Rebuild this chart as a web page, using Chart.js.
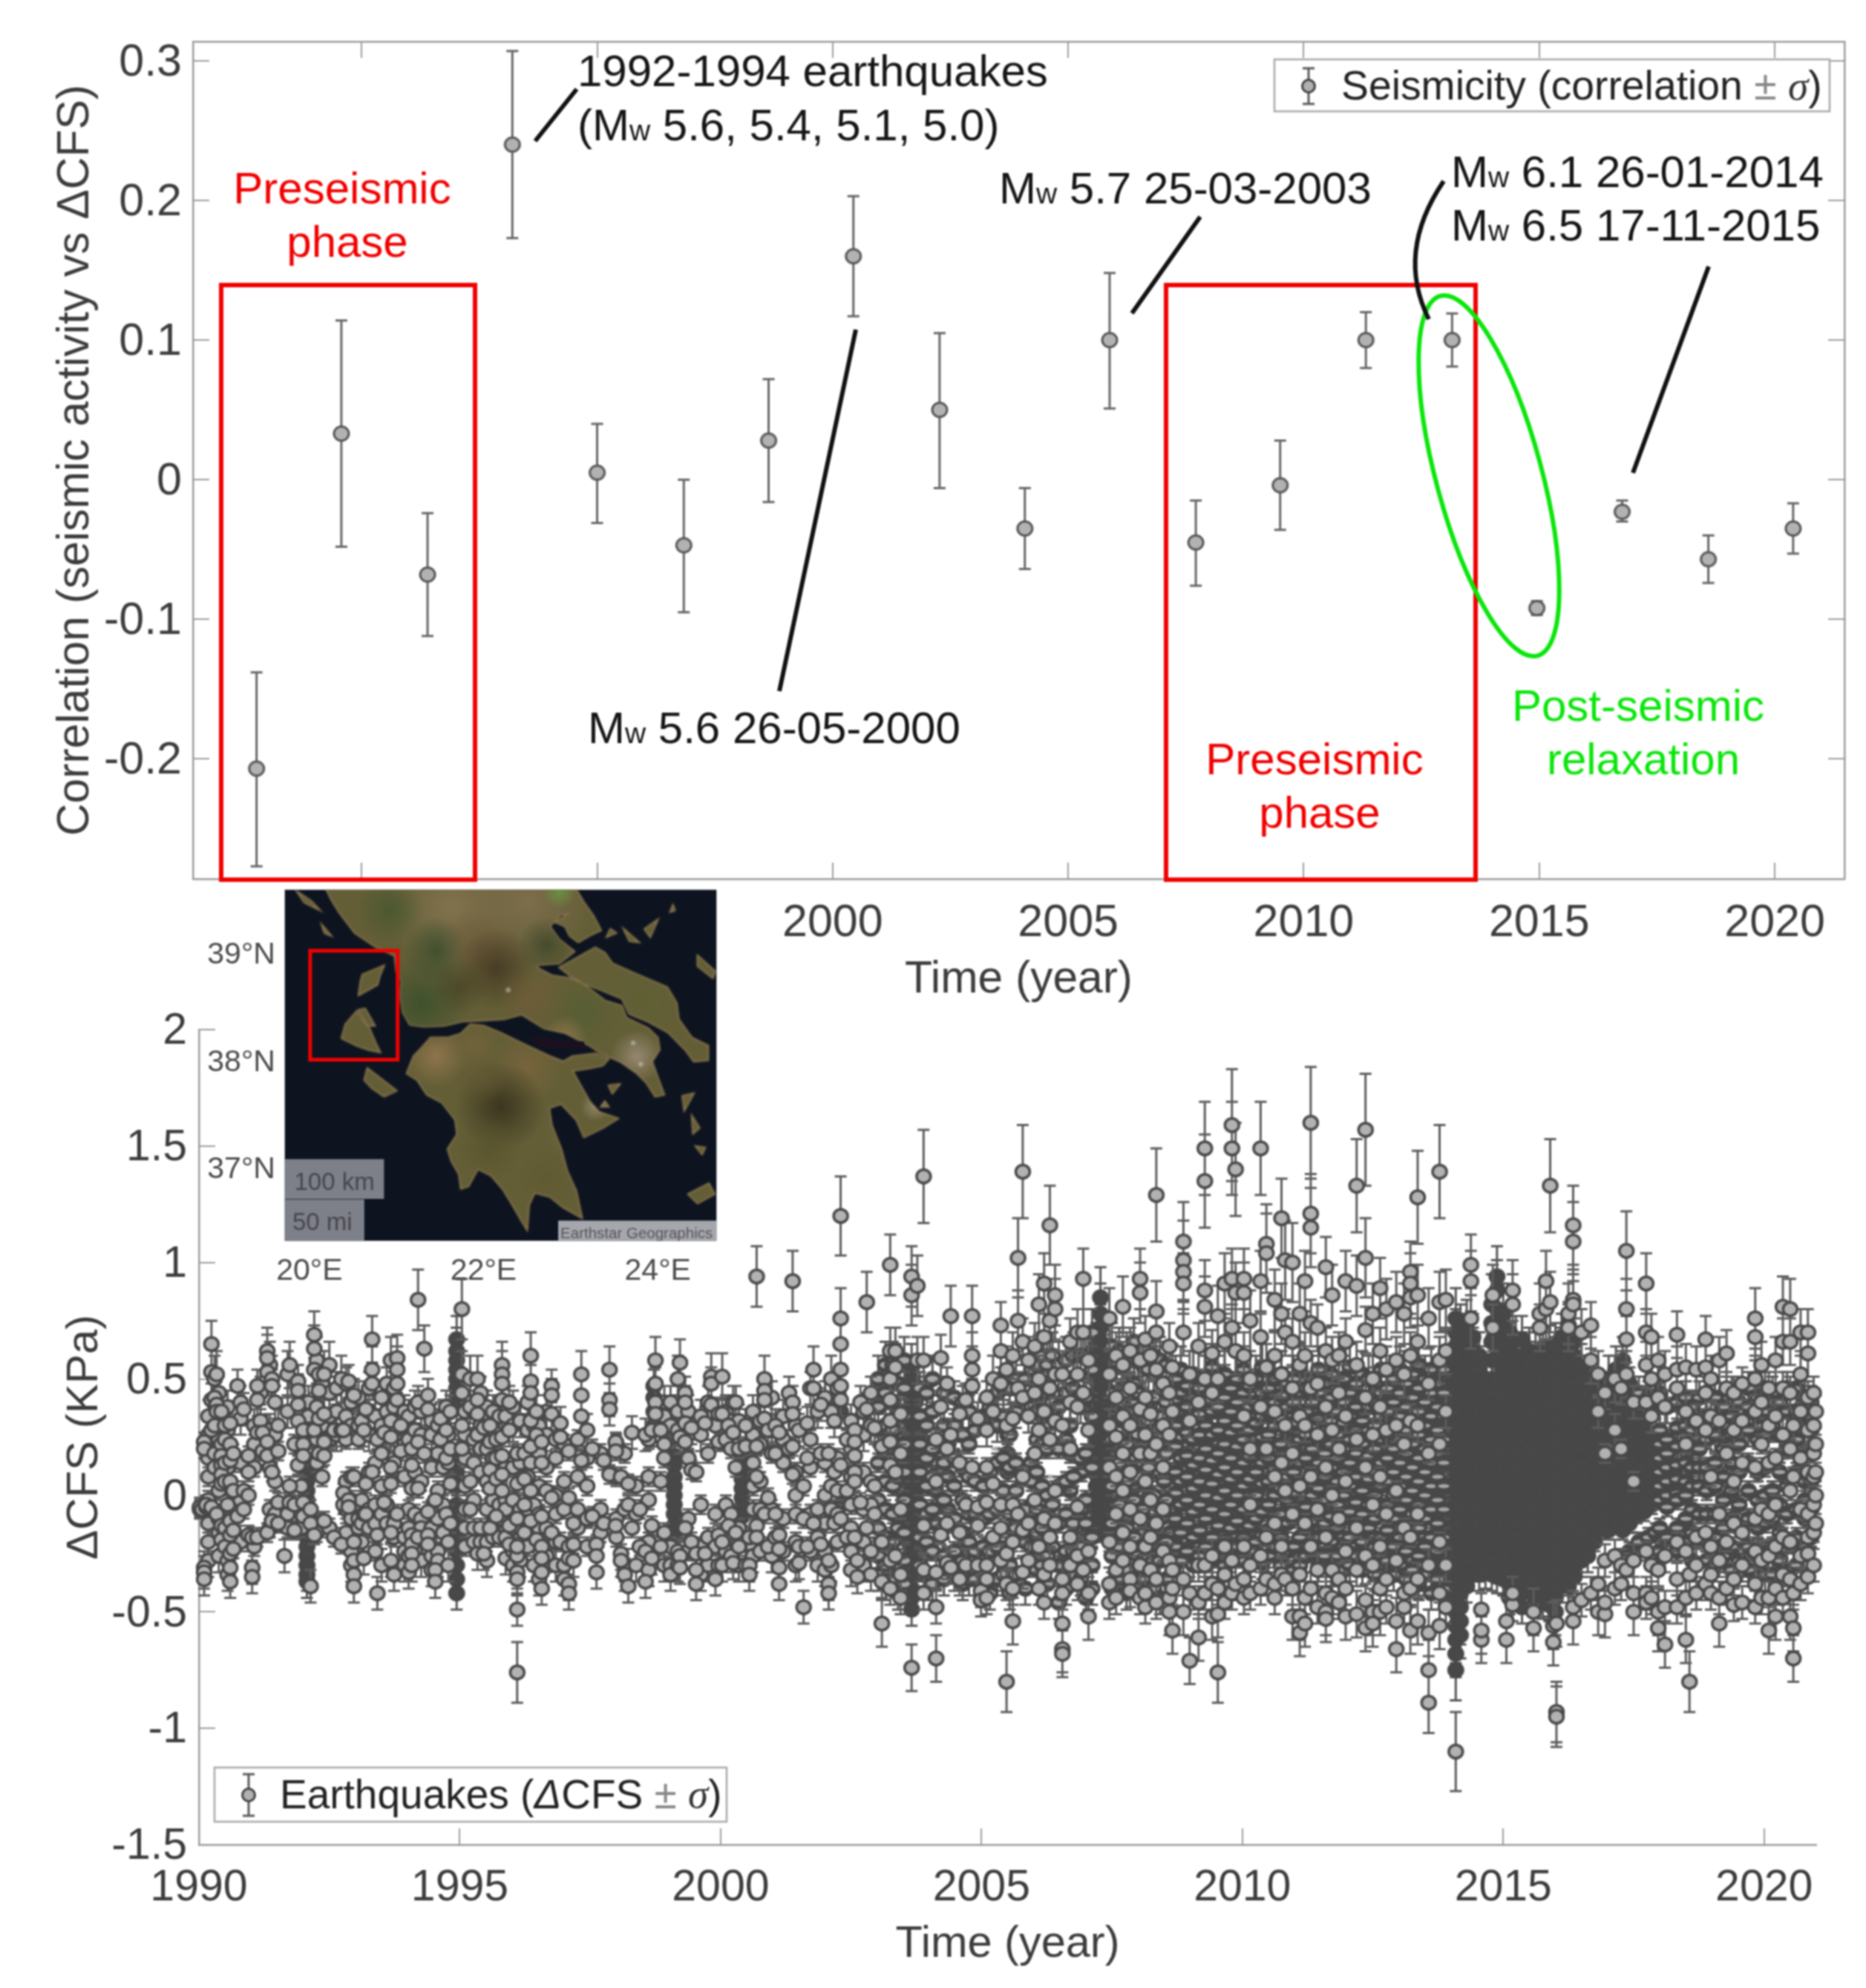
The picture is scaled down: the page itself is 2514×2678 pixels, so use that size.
<!DOCTYPE html>
<html><head><meta charset="utf-8">
<style>html,body{margin:0;background:#fff}canvas{position:absolute;left:0;top:0;filter:blur(0.9px)}</style>
<script src="https://cdn.jsdelivr.net/npm/chart.js@4"></script></head><body>
<canvas id="top" width="2514" height="2678"></canvas>
<canvas id="bottom" width="2514" height="2678"></canvas>
<script>
/* ---------- upper panel ---------- */
const seismicYears=[1987.77,1989.57,1991.4,1993.2,1995,1996.84,1998.64,2000.44,2002.27,2004.08,2005.88,2007.71,2009.5,2011.32,2013.15,2014.95,2016.76,2018.59,2020.39];
const seismicValues=[-0.207,0.033,-0.068,0.24,0.005,-0.047,0.028,0.16,0.05,-0.035,0.1,-0.045,-0.004,0.1,0.1,-0.092,-0.023,-0.057,-0.035];
const seismicUpper=[-0.138,0.114,-0.024,0.307,0.04,0,0.072,0.203,0.105,-0.006,0.148,-0.015,0.028,0.12,0.119,-0.087,-0.015,-0.04,-0.017];
const seismicLower=[-0.277,-0.048,-0.112,0.173,-0.031,-0.095,-0.016,0.117,-0.006,-0.064,0.051,-0.076,-0.036,0.08,0.081,-0.097,-0.03,-0.074,-0.053];
const topYTicks=[-0.2,-0.1,0,0.1,0.2,0.3];
const topXTicks=[1990,1995,2000,2005,2010,2015,2020];
const topXLabels=['','','2000','2005','2010','2015','2020'];
/* ---------- lower panel: rows are [year, dCFS x100 ...] ---------- */
const eqRows1990=[[1990.02,-6,-5],[1990.06,-6],[1990.10,23,20,-31,-33,-36],[1990.14,-5,-4],[1990.24,65,53,41,28,-5],[1990.30,50,42,30,18,12],[1990.34,52,39,36,-8],[1990.43,36,22,17,13,9,5,-13,-19],[1990.5,30,24,14,6,-14,-22],[1990.60,31,22,15,6,-11,-17,-25,-31,-37],[1990.66,18,2,-15,-23],[1990.74,47,-9],[1990.86,37,2,-6],[1990.95,17,10,0,-17],
[1991.02,-18,-31,-35],[1991.12,47,41,27,-18],[1991.22,27,19],[1991.31,62,59,53,23,17,-16],[1991.40,50,47,10,-11],[1991.52,30,19,-12,-3],[1991.64,-26],[1991.74,56,4,-3],[1991.83,-15,-4,22],[1991.90,49,45,39,32,13],
[1992.0,28,22,17,-9,-3],[1992.14,-39,-6,-12],[1992.21,69,63,54,-17,28],[1992.30,52,45,33,18],[1992.40,52,35,23,17,-11],[1992.59,28,-18],[1992.73,50,28,-21],[1992.77,28,1,-4],[1992.87,49,-2,-5],[1992.97,43,8,-20,-28,-34,-39],
[1993.16,28,-27,-8],[1993.20,37,5,-8],[1993.32,67,54,48,10],[1993.42,24,-17,-42],[1993.55,27,-3],[1993.68,58,32,25,12,5,-16,-28],[1993.80,59,54,48,41,-8],[1993.87,30,19],
[1994.08,20,13,3,-17,-21,-25,-30],[1994.20,84,40,23,3,-18],[1994.32,63,18],[1994.39,43,37,-7,-17,-21],[1994.53,-2,-32,-37],[1994.63,24,33],[1994.74,38,28,16,-8],[1994.82,36,20,5,-12]];
const eqFill1990=[[1990.18,34,26,16,8,-2,-12,-20,-28],[1990.38,44,30,24,2,-10,-16,-26],[1990.55,38,28,12,-4,-28,-34],[1990.8,40,33,14,-2,-20],[1991.06,30,22,12,-22],[1991.18,44,32],[1991.36,56,28,12,-6,-14],[1991.46,40,26,6,-8],[1991.7,52,36,-8,-14],[1991.96,40,36,20,4,-8,-14],
[1992.1,40,34,-10],[1992.26,58,38,24,14,-12,-16],[1992.36,48,30,8],[1992.5,56,44,34,24,-14],[1992.64,46,36,26],[1992.82,48,34,24,6,-6,-16],[1992.92,40,30,8,-2,-10,-24,-30],[1993.06,42,30,24,-4,-10,-14],[1993.12,32,-2,-12,-20],[1993.26,46,36,26,10,-6,-14],[1993.38,34,14,-4,-12,-24],[1993.5,42,30,18,4,-8,-30],[1993.6,48,36,26,-4,-12],[1993.74,46,38,28,14,-12,-18,-34],[1993.94,36,30,22,8,-18,-24,-30],
[1994.02,34,24,-6,-14,-26,-33],[1994.14,38,28,10,-8,-24],[1994.26,36,26,6,-10,-14,-28],[1994.46,32,26,12,-6,-14,-26,-32],[1994.58,30,18,2,-10,-24,-28],[1994.68,34,26,12,-4,-16],[1994.78,26,14,-8,-20,-30]];
const eqRows1995=[[1995.04,80,52,44,30,20],[1995.20,50,38,6,-6],[1995.34,50,41,35,26,-25],[1995.46,-25,29],[1995.58,30,23,11,3,-14],[1995.70,24,16,7,-9],[1995.81,56,52,48,41,25,17,9,2],[1995.95,40,28,-13,-21],
[1996.10,-49,-76,-33,-26,-22,-36,18,5,-10],[1996.24,18,7,-4,-16],[1996.36,60,49,44,32,21,14,2,-11],[1996.47,36,26,-19],[1996.57,-22,-27,-33,-40,23,14,-9],[1996.76,47,43,35,-1,-16],[1996.93,31,25,-20],
[1997.09,19,-1,-22,-27,-38,-42],[1997.18,-12,-21,-28],[1997.33,52,43,34,15],[1997.54,20,-9],[1997.62,-21,-26,-33],[1997.76,15,-12],[1997.87,54,41,37,9],[1997.99,23,19,-13],
[1998.09,-25,-28,8],[1998.23,-39,5,-4],[1998.30,27,-14],[1998.45,-6,-22],[1998.56,26,-24,-37],[1998.68,-27,-13,28],[1998.75,58,48,40,35],[1998.85,28,6,-22],
[1999.22,57,25,-26,-31],[1999.32,44,40,31,23,-14],[1999.44,29,11,-20],[1999.53,-38,-32,-25,10],[1999.70,-25,31],[1999.82,51,48,39],[1999.96,35,23,-17,-30]];
const eqFill1995=[[1995.1,36,26,16,4,-6,-14,-22],[1995.27,36,24,14,-2,-14,-20],[1995.4,44,30,20,10,-14,-20],[1995.52,38,20,6,-6,-20,-28],[1995.64,36,28,16,-2,-12,-18],[1995.76,34,12,-4,-10,-18],[1995.88,34,12,-2,-6,-18,-27],[1996.02,38,30,12,-2,-14,-24,-30],[1996.16,32,14,-6,-14,-28],[1996.3,40,28,8,-6,-14,-22],[1996.42,30,20,-4,-12,-30],[1996.52,30,18,4,-8,-14,-36],[1996.66,36,26,12,2,-14,-26],[1996.84,24,16,0,-8,-20,-30],[1997,22,6,-6,-30,-36],[1997.26,24,8,-6,-14],[1997.44,28,16,4,-10,-22],[1997.7,18,-6,-16],[1998,22,8,-10,-18],[1998.16,18,-6,-30,-34],[1998.38,4,-8,-30],[1998.62,24,8,-2,-20,-32],[1998.92,40,34,22,16,-16,-30],[1999.04,40,30,-22,-30,-34],[1999.18,50,36,28,-24,-30],[1999.38,36,26,16,-10,-24],[1999.62,34,26,-4,-22,-34],[1999.76,40,18,-18,-30],[1999.9,30,-8,-22,-36]];
const eqRows2000=[[2000.03,51,35,-20,-30],[2000.15,30,-13],[2000.24,40,27,-29],[2000.29,40,12,-16],[2000.48,30,21,-30],[2000.55,-30,-34,-18],[2000.69,21,8,-13,-18,94],[2000.84,50,45,41,33,-8],[2000.91,-1,28,-22],
[2001.05,30,18,-8,-18],[2001.12,-38,-31,-23,-17,27],[2001.31,44,20],[2001.38,92,40,35,21,9],[2001.50,28,-29,-22],[2001.59,-48,4,-10],[2001.66,-22,31,16],[2001.78,54,46,-12],[2001.92,39,18,-21],
[2002.07,18,-28,-38,-42],[2002.18,32,10,-12],[2002.30,120,76,65,54,47,41,13,-10],[2002.42,24,2,-18],[2002.57,28,23,17,10,6,-18],[2002.62,-28,-35],[2002.68,40,-3],[2002.80,83,37,-14],[2002.95,29,4,-8],
[2003.09,-37,-55,21,-20],[2003.25,99,62,50,41,32,23,13,-28,-40],[2003.35,62,55,10,-26],[2003.45,35,18,-6,-34,-44],[2003.66,94,86,-74],[2003.77,90,58],[2003.89,137,58,-13,-32,-42],
[2004.13,-70,-48,-33,24,6],[2004.22,59,38,-17],[2004.34,48,20,-12,-29],[2004.41,77,26,-31],[2004.58,-36,-16,35,14],[2004.70,41,-4,-30],[2004.82,77,60,54,47,12],[2004.93,33,-5,-13,-30],[2004.99,-41,-45]];
const eqFill2000=[[2000.1,36,24,-4,-24],[2000.2,32,20,-8,-26],[2000.35,32,20,-14,-22,-30],[2000.62,36,26,14,4,-6,-22,-26],[2000.76,32,22,6,-6,-24],[2000.98,42,28,18,-6,-26],[2001.2,34,24,14,-10,-24],[2001.44,30,10,0,-8,-20,-30],[2001.72,46,24,12,-8,-24],[2001.86,36,-6,-18,-30],[2002,42,14,0,-12,-24,-32],[2002.12,50,36,4,-6,-30],[2002.24,46,16,2,-8,-20],[2002.5,32,20,8,-4,-14,-24,-32],[2002.74,36,26,10,-6,-20,-30],[2002.88,44,30,6,-4,-24,-34]];
const eqFill2003=[[2003.02,50,38,28,14,-2,-14,-26,-34],[2003.16,56,44,30,18,6,-6,-18,-30,-38],[2003.3,56,40,28,16,4,-8,-20,-36],[2003.4,48,36,22,8,-14,-30,-42],[2003.52,58,46,34,22,10,-2,-16,-28,-38],[2003.82,46,34,22,10,-4,-18,-30],[2003.95,44,30,16,4,-8,-20,-34],[2004.06,50,36,20,8,-6,-24,-38],[2004.28,44,30,14,-2,-14,-26,-36],[2004.48,42,30,16,4,-10,-24,-34],[2004.64,40,26,12,-2,-16,-28,-38],[2004.76,36,22,8,-8,-20,-36],[2004.88,28,6,-8,-24,-36]];
const eqRows2005=[[2005.10,-44,-36,-30,42,28,12,-3],[2005.22,50,36,5,-18],[2005.37,73,62,48,-4,-14,-28],[2005.48,-80,-38,-25,54,30],[2005.60,-54,-40,-20,60,33,-4],[2005.70,102,75,46,-8],[2005.79,139,66,42,8,-15,-33],[2005.90,58,34,-12,-28],[2006.02,64,44,18,-2],[2006.10,82,50,28,-22,-40],[2006.20,91,68,36,-10,-34,-46],[2006.31,116,75,46,24,-18,-30],[2006.41,86,80,52,32,2,-12],[2006.55,52,30,-36,-55,-66,-68,-42],[2006.70,66,40,20,-18,-30],[2006.84,70,52,38,-5,-26,-38],[2006.95,93,70,44,-32],
[2007.05,-52,-42,-24,58,28],[2007.45,76,52,30,12,-20,-38,-46],[2007.58,60,42,25,8,-8,-32,-44],[2007.71,81,56,34,18,2,-16,-28],[2007.85,62,46,30,10,-6,-22,-36,-41],[2008.04,93,87,58,37,18,-10,-30,-44],[2008.14,67,42,26,6,-22,-48,-42],[2008.24,60,35,18,-2,-18,-32],[2008.35,129,79,70,54,22,-12,-36,-46],[2008.48,48,30,12,-6,-24],[2008.60,64,44,26,-28,-44,-50],[2008.66,-58,-40,-32,55,36],[2008.87,109,101,96,91,70,-36,-50],[2008.99,-71,-42,52,32],
[2009.16,-61,-46,-30,64,40],[2009.28,149,135,88,81,50,-30,-42],[2009.42,61,44,-26,-38,-52],[2009.53,-76,-51,-40,77,50],[2009.66,91,66,-22,-34,-46],[2009.80,159,149,93,72,-28,-42],[2009.87,140,87,62,-38],
[2010.03,93,87,60,34,-22,-36,-44],[2010.15,75,50,20,-4,-30,-42],[2010.35,149,92,68,38,-26,-40],[2010.46,108,104,55,20,-18,-36],[2010.62,84,60,36,8,-12,-38,-44],[2010.75,119,78,52,14,-22,-34],[2010.82,101,70,30,2,-36],[2010.96,100,66,46,18,-8,-40,-52],[2011.10,78,56,34,4,-34,-52,-59],[2011.20,92,60,30,-12,-55,-44],[2011.31,160,121,115,74,46,8,-22,-40],[2011.44,72,48,26,-6,-32,-48],[2011.60,98,62,38,12,-18,-42,-50,-53],[2011.72,86,58,28,0,-32,-44],[2011.85,60,44,20,-10,-36,-46],[2011.98,92,66,34,6,-24,-40,-52],
[2012.19,133,90,56,24,-14,-32,-51],[2012.36,157,102,71,42,12,-26,-45,-57],[2012.50,78,50,26,-4,-30,-50,-55],[2012.64,89,62,38,8,-22,-40,-50],[2012.76,80,54,28,-8,-36,-48],[2012.95,83,58,30,2,-28,-54,-66],[2013.10,78,52,22,-14,-42,-48],[2013.22,96,91,85,60,32,-18,-40,-58],[2013.36,128,86,66,30,-8,-36,-54],[2013.57,76,48,18,-30,-59,-75,-89],[2013.78,139,83,58,22,-20,-42,-56],[2013.90,84,62,36,-30,-48]];
const eqFill2005=[[2005.04,34,4,-10,-22,-34,-40],[2005.16,38,10,-8,-24,-42],[2005.3,44,30,14,-6,-22,-36],[2005.42,46,34,16,2,-18,-34],[2005.54,46,26,12,-8,-30,-42],[2005.66,50,36,14,2,-14,-34],[2005.84,50,40,-6,-20,-40],[2005.96,54,38,6,-12,-22],[2006.06,56,36,24,10,-6,-16,-32],[2006.16,60,42,22,4,-14,-30],[2006.26,56,40,20,0,-8,-26,-38],[2006.36,60,40,-4,-22],[2006.48,56,38,20,4,-12,-30,-46],[2006.62,58,44,24,6,-8,-24,-40],[2006.76,60,46,8,-12,-24,-34],[2006.9,60,38,16,-6,-22,-36],[2007,60,42,18,-2,-12,-30,-44],[2007.12,70,54,34,12,-18,-30,-40],[2007.5,64,44,24,4,-12,-26,-40],[2007.64,62,40,14,-4,-22,-36],[2007.78,60,44,22,6,-14,-32,-42],[2007.92,66,48,28,-2,-18,-36],[2008,58,44,26,8,-8,-26,-38],[2008.09,56,36,14,-6,-28,-36],[2008.2,54,32,12,-12,-26,-40],[2008.3,60,42,20,0,-14,-28,-40],[2008.42,58,34,16,-10,-28,-44],[2008.54,56,40,18,-2,-20,-36]];
const eqRows2014=[[2014.09,-110],[2014.38,99,92,76],[2014.58,-62,-58,-49],[2014.80,86,72],[2015.06,-62,-54],[2015.18,88,82,-47,-42],[2015.58,-57,-50],[2015.70,78,72],[2015.82,92,80],[2015.90,133,83],[2015.96,-63,-56],[2016.02,-93,-95,-55],[2016.25,78,72],[2016.34,116,109,84,82,-54,-48],[2016.50,70,-45],[2016.68,73,58,-42],[2016.82,52,36,-38,-50],[2016.95,44,18,-28,-51,-46],[2017.14,50,28,-26,-40],[2017.26,46,20,-30,-38],[2017.36,105,80,67,52,-32],[2017.50,40,6,-28,-50,-42],[2017.74,91,70,56,40,-24,-42,-46],[2017.84,68,50,34,-30,-44],[2017.97,58,42,-32,-50,-57],[2018.10,52,38,-26,-64,-48],[2018.33,69,54,46,-20,-36,-48],[2018.50,55,36,22,-24,-62,-44],[2018.57,-80,-34],[2018.70,54,32,-18,-30,-42],[2018.88,67,55,44,28,-16,-38],[2018.98,50,34,8,-22,-34,-42],[2019.14,58,32,-8,-28,-44,-55],[2019.28,61,46,18,-20,-40],[2019.42,44,28,6,-12,-36,-47],[2019.58,48,32,14,-16,-30,-46],[2019.83,76,68,50,36,12,-10,-24,-38,-48],[2019.95,56,40,22,-6,-28,-44],[2020.09,46,30,14,-8,-26,-44,-58],[2020.22,58,34,16,-4,-22,-40,-52],[2020.36,81,66,46,26,-18,-34,-44],[2020.50,80,66,44,20,2,-20,-36,-52],[2020.56,-70,-57,-42,30,8],[2020.70,70,52,36,16,-6,-26,-38],[2020.84,70,61,42,28,10,-8,-18,-25,-35],[2020.95,44,30,18,8,-4,-16,-30],[2020.99,36,22,10,0,-12]];
/* overplotted stretches where outlines and bars merge into solid grey */
const eqSolid1990=[[1992.07,30,24,14,10,6,2,-2,-18,-22,-26,-30,-34,-37],[1994.94,67,62,58,54,50,46,42,38,18,10,4,-4,-12,-18,-24,-30,-36,-42],[1998.72,47,42,36,30],[1999.11,25,17,13,8,4,0,-4,-8,-13,-18],[2000.41,16,11,7,3,-1,-5,-9],[2002.30,36,-4],[2003.66,55,50,45,40,35,30,25,20,15,10,5,0,-5,-10,-15,-20,-25,-30,-35,-40,-44,-49],[2003.60,20,10,0,-10,-20,-30],[2003.73,40,30,20,10,0,-10,-20],
[2007.20,64,59,54,49,44,39,34,29,24,19,14,9,4,-1,-6,-11,-14],[2007.28,85,78,72,66,60,55,50,45,40,35,30,25,20,15,10,5,0,-5,-10,-16],[2007.36,64,59,54,49,44,39,34,29,24,19,14,9,4,-1,-6,-11,-14],[2007.42,54,44,34,24,14,4,-6]];
/* heavily overlapped markers: only a sliver of each fill still shows */
const eqStacked2003=[[2003.48,30,16,2,-12],[2003.86,24,8,-8,-22],[2004.12,14,2,-12],[2004.36,22,8,-6],[2004.7,10,-4,-18],[2005.5,26,18,10],[2005.95,14,-8],[2006.22,30,20,-16],[2006.7,30,18,2],[2006.92,10,-14],
[2007.46,40,30,18,6,-6,-18],[2007.58,34,22,10,-4,-14],[2007.7,46,32,20,6,-6],[2007.82,36,24,14,2,-10,-22],[2007.96,40,28,16,4,-8,-20],[2008.08,30,18,6,-6,-16],[2008.22,36,24,12,0,-12,-24],[2008.36,34,22,10,-4,-18],[2008.5,42,30,18,6,-8,-20],[2008.62,46,34,22,10,-2,-16,-26],
[2008.72,50,41,30,21,10,1,-10,-22],[2008.82,54,44,36,25,16,6,-4,-16,-28],[2008.94,47,38,27,17,8,-2,-12,-24],[2009.06,52,42,33,24,13,3,-7,-18,-30],[2009.18,46,35,26,16,6,-4,-15,-26],[2009.3,50,41,30,20,11,0,-10,-22],[2009.42,55,45,36,26,15,5,-6,-18,-28],[2009.54,48,38,28,18,9,-1,-13,-24],[2009.66,52,42,32,22,12,2,-8,-20,-30],[2009.78,46,36,27,16,7,-4,-14,-26],[2009.9,50,40,30,21,10,0,-11,-22],[2010.02,54,44,34,24,14,4,-6,-18,-28],[2010.14,47,38,28,17,7,-3,-13,-24],[2010.26,50,40,31,20,10,0,-10,-20],[2010.38,55,44,34,25,14,5,-7,-17,-29],[2010.5,46,36,26,16,6,-4,-15,-26],[2010.62,50,40,30,20,11,0,-10,-22],[2010.74,52,43,33,22,12,3,-8,-18,-30],[2010.86,48,38,28,18,8,-2,-12,-24],[2010.98,50,40,31,21,10,1,-10,-22,-32],[2011.1,54,44,34,24,14,4,-6,-18,-30],[2011.22,46,36,26,16,6,-5,-14,-26],[2011.34,50,40,30,20,10,0,-11,-24],[2011.46,54,44,33,24,14,3,-8,-18,-30],[2011.58,48,37,28,18,8,-2,-12,-26],[2011.7,52,42,32,22,12,2,-9,-20,-32],[2011.82,46,36,26,16,6,-4,-14,-26],[2011.94,50,40,31,20,10,0,-10,-22,-32],[2012.06,55,44,34,24,14,4,-7,-18,-30],[2012.18,48,38,28,18,8,-3,-13,-26],[2012.3,52,42,32,22,12,2,-8,-20,-32],[2012.42,50,38,28,17,7,-4,-14,-26],[2012.54,48,40,30,20,10,0,-10,-22,-34],[2012.66,54,44,34,24,14,4,-7,-18,-30],[2012.78,46,36,26,16,6,-4,-15,-28],[2012.9,50,40,30,20,10,0,-10,-22,-34],[2013.02,54,44,34,24,14,4,-6,-18,-30],[2013.14,48,38,28,18,8,-2,-12,-24,-36],[2013.26,52,42,32,22,12,2,-8,-20,-32],[2013.38,56,46,36,26,16,6,-4,-14,-26,-38],[2013.5,50,40,30,20,10,0,-10,-22,-34],[2013.62,54,44,34,24,14,4,-6,-18,-30,-42],[2013.74,48,38,28,18,8,-2,-12,-24,-36],[2013.86,54,44,34,24,14,4,-6,-18,-30,-40]];
const eqSolid2014=[[2014.00,60,54,48,42,36,30,24,18,12,6,0,-6,-12,-18,-24,-30,-36,-42,-48],[2014.09,76,70,64,58,52,46,40,34,28,22,16,10,4,-2,-8,-14,-20,-26,-32,-38,-44,-50,-56,-62,-68,-75],[2014.18,72,66,60,54,48,42,36,30,24,18,12,6,0,-6,-12,-18,-24,-30,-36,-42,-48,-54,-60],[2014.30,74,68,62,56,50,44,38,32,26,20,14,8,2,-4,-10,-16,-22,-28,-34,-39],[2014.42,68,62,56,50,44,38,32,26,20,14,8,2,-4,-10,-16,-22,-28,-34],[2014.54,60,54,48,42,36,30,24,18,12,6,0,-6,-12,-18,-24,-30,-34],[2014.66,50,44,38,32,26,20,14,8,2,-4,-10,-16,-22,-28,-33],[2014.78,82,74,66,58,50,44,38,32,26,20,14,8,2,-4,-10,-16,-22,-28,-34],[2014.88,94,88,80,72,64,58,50,44,38,32,26,20,14,8,2,-4,-10,-16,-22,-28,-35],[2015.00,78,72,66,60,54,48,42,36,30,24,18,12,6,0,-6,-12,-18,-24,-30,-36],[2015.12,70,64,58,52,46,40,34,28,22,16,10,4,-2,-8,-14,-20,-26,-32,-38,-44],[2015.24,67,60,54,48,42,36,30,24,18,12,6,0,-6,-12,-18,-24,-30,-36,-39],[2015.36,67,60,54,48,42,36,30,24,18,12,6,0,-6,-12,-18,-24,-30,-36,-42,-48],[2015.50,62,56,50,44,38,32,26,20,14,8,2,-4,-10,-16,-22,-28,-34,-40],[2015.62,60,54,48,42,36,30,24,18,12,6,0,-6,-12,-18,-24,-30,-36,-42,-45],[2015.76,62,56,50,44,38,32,26,20,14,8,2,-4,-10,-16,-22,-28,-34,-40,-46],[2015.88,63,57,51,45,39,33,27,21,15,9,3,-3,-9,-15,-21,-27,-33,-39,-45,-47],[2016.00,64,58,52,46,40,34,28,22,16,10,4,-2,-8,-14,-20,-26,-32,-38,-44,-50],[2016.12,68,62,56,50,44,38,32,26,20,14,8,2,-4,-10,-16,-22,-28,-34,-39],[2016.25,73,66,60,54,48,42,36,30,24,18,12,6,0,-6,-12,-18,-24,-30,-36,-39],[2016.36,66,60,54,48,42,36,30,24,18,12,6,0,-6,-12,-18,-24,-30,-35],[2016.50,55,50,44,38,32,26,20,14,8,2,-4,-10,-16,-22,-28],[2016.62,50,44,38,32,26,20,14,8,2,-4,-10,-16,-22,-26],[2016.75,47,41,35,29,23,17,11,5,-1,-7,-13,-20],[2016.88,46,40,34,28,22,16,10,4,-2,-8,-14],[2017.02,50,44,38,32,26,20,14,8,2,-4,-10,-15],[2017.16,54,48,42,36,30,24,18,12,6,0,-6,-12],[2017.29,58,52,46,40,34,28,22,16,10,4,-2,-8,-15],[2017.42,48,42,36,30,24,18,12,6,0,-6,-12,-24],[2017.56,34,28,22,16,10,4,-2,-8],[2017.70,29,23,17,11,5,-1,-7],[2017.85,26,20,14,8,2,-4]];
const eqStacked2018=[[2017.6,44,-20],[2017.78,42,-18],[2017.92,40,-16,-26],[2018.00,44,28,22,16,10,4,-2,-14,-24],[2018.14,38,24,18,12,6,0,-5,-18],[2018.33,40,29,21,13,7,1,-2,-14,-24],[2018.50,42,30,22,14,6,0,-10,-20],[2018.62,38,28,20,12,4,-6,-16,-28],[2018.76,42,30,20,12,4,-8,-18],[2018.90,44,34,24,12,2,-8,-20,-28],[2019.06,42,26,14,4,-8,-18,-30],[2019.22,38,30,20,8,-2,-14,-26],[2019.38,44,34,26,14,2,-10,-22,-32],[2019.52,40,32,22,10,-4,-14,-28],[2019.70,46,38,28,14,2,-10,-22,-32],[2019.88,42,34,24,10,-2,-14,-26],[2020.02,46,36,26,12,0,-12,-24,-34],[2020.16,44,30,14,2,-10,-22,-34],[2020.30,40,26,10,-4,-16,-28],[2020.44,46,36,20,4,-8,-20,-32],[2020.62,46,36,24,10,-6,-18,-30],[2020.78,42,30,18,6,-2,-10,-22],[2020.90,40,28,18,6,-6,-18]];
/* stripes of markers left showing between overlapping outlines */
const eqStripes=[[2004.2,12],[2005.3,20],[2006.3,8],[2007.45,36,8],[2007.62,24,-8],[2007.78,42,12,-12],[2007.92,30,2],[2008.06,24,-2],[2008.2,32,10,-14],[2008.34,18,-10],[2008.48,36,2],[2008.6,28,-16],[2008.76,44,-4,-20],[2008.92,8],[2009.04,36],[2009.2,42,-12],[2009.36,-4,-24],[2009.5,44,14,-18],[2009.64,-6],[2009.8,42,18],[2009.94,6,-16],[2010.08,30,-4],[2010.2,38,12],[2010.36,-10,-26],[2010.48,34,18,2],[2010.64,44,8,-14],[2010.78,26,-6],[2010.9,40,14,-20],[2011.04,32,-2],[2011.16,46,20,-10],[2011.3,6,-18],[2011.42,36,14,-28],[2011.56,44,24,-6],[2011.68,12,-16],[2011.8,38,-2,-24],[2011.92,26,6],[2012.04,44,16,-12],[2012.16,30,-6,-26],[2012.28,38,8],[2012.4,22,-10],[2012.52,44,14,-18],[2012.64,28,-2],[2012.76,36,10,-24],[2012.88,24,-6],[2013.0,42,16,-12],[2013.12,30,2,-30],[2013.24,38,-10],[2013.36,20,-20],[2013.48,44,8,-28],[2013.6,30,-4],[2013.72,40,16,-20],[2013.84,26,-12],
[2017.5,-16],[2017.82,22],[2018.1,-20],[2018.4,36,-16],[2018.58,6,-24],[2018.72,34,-12],[2018.86,16,-24],[2019.0,38,2,-16],[2019.14,22,-10],[2019.3,34,12,-22],[2019.44,28,-6],[2019.6,40,16,-18],[2019.74,24,-6,-28],[2019.86,36,6],[2020.0,30,14,-20],[2020.12,40,-6],[2020.26,32,4,-26],[2020.4,42,16,-12],[2020.54,24,-4,-24],[2020.68,40,14],[2020.82,32,12,-14],[2020.94,24,0,-12]];
/* error half-widths for each band of |dCFS| */
const eqSigmaBandTops=[0.25,0.5,0.75,1,1.25,1.5,9];
const eqSigmaBandValues=[0.04,0.07,0.1,0.13,0.17,0.2,0.24];
const lowYTicks=[-1.5,-1,-0.5,0,0.5,1,1.5,2];
const lowXTicks=[1990,1995,2000,2005,2010,2015,2020];

const FONT='"Liberation Sans"', INK='#3c3c3c', AXIS='#9c9c9c', RED='#f00000', GREEN='#0ae60a', EDGE='#484848';
function marker(r,ry,fill,edge,lw,slit){const c=document.createElement('canvas');const s=2*Math.ceil(r+lw)+2;c.width=s;c.height=s;const g=c.getContext('2d');g.beginPath();g.ellipse(s/2,s/2,r,ry,0,0,7);g.fillStyle=fill;g.fill();if(lw){g.lineWidth=lw;g.strokeStyle=edge;g.stroke();}
 if(slit){g.beginPath();g.ellipse(s/2,s/2,slit[0],slit[1],0,0,7);g.fillStyle=slit[2];g.fill();}return c;}
const flat=rows=>{const o=[];rows.forEach(([yr,...vs])=>vs.forEach(v=>{const y=v/100,i=eqSigmaBandTops.findIndex(t=>Math.abs(y)<t);o.push({x:yr,y,lo:y-eqSigmaBandValues[i],hi:y+eqSigmaBandValues[i]});}));return o;};

const errorBars={id:'errorBars',beforeDatasetDraw(chart,args){
  const ds=chart.data.datasets[args.index];if(ds.noBars)return;
  const xs=chart.scales.x,ys=chart.scales.y,g=chart.ctx,cap=ds.capHalf;
  g.save();g.strokeStyle=ds.barColor;g.lineWidth=3;g.beginPath();
  ds.data.forEach(p=>{const x=xs.getPixelForValue(p.x),a=ys.getPixelForValue(p.hi),b=ys.getPixelForValue(p.lo);
    g.moveTo(x,a);g.lineTo(x,b);g.moveTo(x-cap,a);g.lineTo(x+cap,a);g.moveTo(x-cap,b);g.lineTo(x+cap,b);});
  g.stroke();g.restore();}};

function text(g,s,x,y,color,size,align){g.fillStyle=color;g.font=(size||60)+'px '+FONT;g.textAlign=align||'left';g.textBaseline='middle';g.fillText(s,x,y+3);}
function mwText(g,rest,x,y){g.textAlign='left';g.textBaseline='alphabetic';g.fillStyle='#151515';const b=y+22;
  g.font='60px '+FONT;g.fillText('M',x,b);let w=g.measureText('M').width;g.font='39px '+FONT;g.fillText('w',x+w,b);w+=g.measureText('w').width;
  g.font='60px '+FONT;g.fillText(' '+rest,x+w,b);}
function line(g,x1,y1,x2,y2){g.strokeStyle='#111';g.lineWidth=6;g.beginPath();g.moveTo(x1,y1);g.lineTo(x2,y2);g.stroke();}
function legendEntry(g,box,sx,cy,half,segs,tx){
  g.strokeStyle='#a8a8a8';g.lineWidth=2.5;g.fillStyle='#fff';g.fillRect(box[0],box[1],box[2],box[3]);g.strokeRect(box[0],box[1],box[2],box[3]);
  g.strokeStyle='#5a5a5a';g.lineWidth=3;g.beginPath();g.moveTo(sx,cy-half);g.lineTo(sx,cy+half);g.moveTo(sx-8,cy-half);g.lineTo(sx+8,cy-half);g.moveTo(sx-8,cy+half);g.lineTo(sx+8,cy+half);g.stroke();
  g.beginPath();g.arc(sx,cy,8.5,0,7);g.fillStyle='#b0b0b0';g.fill();g.strokeStyle='#444';g.stroke();
  let x=tx;g.textBaseline='middle';g.textAlign='left';
  segs.forEach(([s,font,col])=>{g.font=font;g.fillStyle=col;g.fillText(s,x,cy+3);x+=g.measureText(s).width;});}

/* inset map: outlines in a local grid, mapped to the page by mx/my */
const mx=X=>200+X/1.96, my=Y=>1180+Y/2.8;
const mainland=[[470,52],[1130,52],[1150,100],[1175,150],[1195,205],[1165,225],[1135,250],[1112,225],[1100,190],[1075,175],[1105,145],[1090,145],[1060,190],[1085,240],[1125,285],[1085,330],[1030,335],[1025,345],[1065,375],[1130,390],[1160,420],[1205,470],[1250,490],[1262,535],[1320,575],[1345,610],[1350,655],[1330,700],[1345,760],[1362,825],[1338,832],[1315,780],[1290,745],[1245,700],[1190,665],[1165,640],[1100,592],[1045,575],[985,522],[940,540],[880,545],[830,548],[780,565],[725,568],[690,560],[672,515],[665,450],[668,395],[655,360],[650,300],[600,268],[545,215],[505,140],[485,95]];
const evia=[[1180,270],[1205,290],[1225,330],[1280,365],[1370,420],[1395,480],[1400,540],[1435,610],[1478,640],[1478,695],[1440,700],[1420,660],[1372,590],[1320,550],[1270,520],[1250,462],[1195,430],[1130,395],[1085,345],[1130,310]];
const pelop=[[850,560],[825,595],[790,610],[745,610],[720,650],[700,680],[682,745],[710,770],[735,825],[775,855],[810,920],[815,975],[790,1030],[800,1075],[820,1125],[825,1180],[845,1170],[870,1105],[905,1130],[935,1180],[965,1250],[985,1300],[1000,1335],[1005,1240],[1020,1195],[1060,1210],[1095,1250],[1145,1290],[1130,1190],[1105,1110],[1090,1030],[1065,940],[1058,875],[1090,860],[1130,920],[1150,985],[1200,950],[1240,915],[1190,890],[1165,850],[1145,800],[1120,735],[1165,725],[1200,715],[1215,690],[1180,670],[1120,680],[1095,700],[1060,680],[1000,640],[930,592],[885,565]];
const islands=[[[510,612],[520,560],[550,510],[565,545],[582,570],[600,630],[612,665],[580,655],[550,640]],[[555,505],[572,500],[598,565],[580,565]],[[555,450],[560,400],[565,372],[622,338],[610,380],[605,410]],[[578,725],[610,760],[655,810],[622,832],[590,800],[570,770]],[[392,58],[430,95],[452,128],[412,100]],[[458,185],[482,225],[465,215]],[[1220,200],[1235,215],[1210,230]],[[1255,200],[1295,250],[1270,245]],[[1310,200],[1345,165],[1325,230]],[[1385,110],[1390,130],[1378,135]],[[1450,300],[1497,360],[1490,385],[1450,340]],[[1410,830],[1440,820],[1415,885]],[[1435,905],[1455,950],[1438,972]],[[1445,1020],[1470,1025],[1462,1050]],[[1425,1200],[1480,1160],[1495,1200],[1450,1235]],[[1215,790],[1245,785],[1225,820]],[[1205,850],[1215,870],[1195,870]]];
const mapBlotches=[[800,120,90,'rgba(135,118,82,0.85)'],[1000,100,90,'rgba(130,112,80,0.85)'],[1085,60,22,'rgba(105,150,65,0.9)'],[640,130,45,'rgba(72,88,48,0.9)'],[720,480,65,'rgba(58,80,44,0.9)'],[760,280,45,'rgba(60,78,45,0.9)'],[870,260,50,'rgba(110,90,58,0.8)'],[920,350,55,'rgba(70,58,36,0.9)'],[820,420,38,'rgba(72,68,38,0.8)'],[1050,260,38,'rgba(60,70,40,0.8)'],[1010,450,45,'rgba(112,92,56,0.8)'],[1150,520,50,'rgba(85,95,52,0.8)'],[1300,470,55,'rgba(95,96,52,0.8)'],[1290,680,36,'rgba(155,140,118,0.9)'],[760,680,42,'rgba(150,120,80,0.85)'],[860,640,36,'rgba(115,100,60,0.85)'],[1000,720,50,'rgba(125,102,62,0.75)'],[930,870,60,'rgba(55,50,28,0.9)'],[880,760,35,'rgba(100,88,52,0.7)'],[900,1030,42,'rgba(88,84,44,0.8)'],[1050,1140,38,'rgba(95,90,50,0.8)'],[1090,980,26,'rgba(110,100,60,0.7)'],[1100,610,30,'rgba(150,122,80,0.75)'],[1180,870,20,'rgba(170,160,135,0.6)'],[950,430,5,'rgba(230,230,220,0.6)'],[1280,630,5,'rgba(230,230,230,0.55)'],[1300,710,5,'rgba(230,230,230,0.55)']];
function poly(g,pts){pts.forEach((p,i)=>i?g.lineTo(mx(p[0]),my(p[1])):g.moveTo(mx(p[0]),my(p[1])));g.closePath();}
function blotch(g,X,Y,r,col){const x=mx(X),y=my(Y),k=g.createRadialGradient(x,y,0,x,y,r);k.addColorStop(0,col);k.addColorStop(1,col.replace(/[\d.]+\)$/,'0)'));g.fillStyle=k;g.fillRect(x-r,y-r,2*r,2*r);}
function drawMap(g){
  g.save();g.fillStyle='#0d1420';g.fillRect(mx(360),my(52),mx(1500)-mx(360),my(1376)-my(52));
  g.beginPath();g.rect(mx(360),my(52),mx(1500)-mx(360),my(1376)-my(52));g.clip();
  g.save();g.filter='blur(1.2px)';g.beginPath();[mainland,evia,pelop,...islands].forEach(p=>poly(g,p));g.fillStyle='#635e36';g.strokeStyle='#85734a';g.lineWidth=2.5;g.fill();g.stroke();g.restore();
  g.save();g.beginPath();[mainland,evia,pelop,...islands].forEach(p=>poly(g,p));g.clip();
  mapBlotches.forEach(b=>blotch(g,b[0],b[1],b[2],b[3]));
  g.restore();
  g.fillStyle='#1a1020';g.beginPath();poly(g,[[1005,605],[1150,625],[1155,655],[1030,645]]);g.fill();
  g.fillStyle='#7d7f89';g.fillRect(mx(360),my(1068),mx(622)-mx(360),my(1218)-my(1068));g.fillRect(mx(360),my(1220),mx(570)-mx(360),my(1376)-my(1220));
  g.fillStyle='#a6a7ac';g.fillRect(mx(1082),my(1300),mx(1500)-mx(1082),my(1376)-my(1300));
  text(g,'100 km',mx(385),my(1150),'#46464c',33);text(g,'50 mi',mx(380),my(1302),'#46464c',33);
  text(g,'Earthstar Geographics',mx(1088),my(1342),'#55555a',20.5);
  g.strokeStyle='#f00000';g.lineWidth=5;g.strokeRect(mx(427),my(282),mx(658)-mx(427),my(693)-my(282));
  g.restore();
  [['39°N',290],['38°N',697],['37°N',1100]].forEach(a=>text(g,a[0],mx(335),my(a[1]),'#4a4a4a',41,'right'));
  [['20°E',425],['22°E',885],['24°E',1345]].forEach(a=>text(g,a[0],mx(a[1]),my(1482),'#4a4a4a',41,'center'));
}
const topNotes={id:'topNotes',afterDraw(chart){const g=chart.ctx;g.save();
  g.strokeStyle=RED;g.lineWidth=6;g.strokeRect(298,384,342,801);g.strokeRect(1571,384,417,801);
  g.strokeStyle=GREEN;g.lineWidth=6;g.beginPath();g.ellipse(2006,641,71,251,-15.1*Math.PI/180,0,7);g.stroke();
  text(g,'1992-1994 earthquakes',778,96,'#151515');
  g.fillStyle='#151515';g.font='60px '+FONT;g.textAlign='left';g.textBaseline='alphabetic';g.fillText('(',778,189);
  mwText(g,'5.6, 5.4, 5.1, 5.0)',778+g.measureText('(').width,167);
  line(g,777,120,721,190);
  mwText(g,'5.6 26-05-2000',792,979);line(g,1153,444,1050,931);
  mwText(g,'5.7 25-03-2003',1346,252);line(g,1617,292,1525,422);
  mwText(g,'6.1 26-01-2014',1955,230);mwText(g,'6.5 17-11-2015',1955,302);
  g.strokeStyle='#111';g.lineWidth=6;g.beginPath();g.moveTo(1945,244);g.quadraticCurveTo(1880,340,1925,430);g.stroke();
  line(g,2302,359,2200,637);
  text(g,'Preseismic',461,254,RED,60,'center');text(g,'phase',468,326,RED,60,'center');
  text(g,'Preseismic',1771,1023,RED,60,'center');text(g,'phase',1778,1095,RED,60,'center');
  text(g,'Post-seismic',2207,951,GREEN,60,'center');text(g,'relaxation',2214,1023,GREEN,60,'center');
  legendEntry(g,[1717,80,748,70],1763,116,24,[['Seismicity (correlation ','55.3px '+FONT,'#222'],['± ','55.3px '+FONT,'#888'],['σ','italic 55.3px "Liberation Serif"','#333'],[')','55.3px '+FONT,'#222']],1807);
  drawMap(g);g.restore();}};
const lowNotes={id:'lowNotes',afterDraw(chart){const g=chart.ctx;g.save();
  legendEntry(g,[289,2381,690,73],335,2418,28,[['Earthquakes (','55px '+FONT,'#222'],['Δ','italic 55px '+FONT,'#222'],['CFS ','55px '+FONT,'#222'],['± ','55px '+FONT,'#888'],['σ','italic 55px "Liberation Serif"','#333'],[')','55px '+FONT,'#222']],377);
  g.restore();}};

const baseGrid={drawOnChartArea:false,color:AXIS,lineWidth:2,tickLength:-22};
const border={color:AXIS,width:2.5};
const setTicks=t=>s=>{s.ticks=t.map(v=>({value:v}));};
const fitX=h=>s=>{s.height=h;s.paddingLeft=0;s.paddingRight=0;};
const fitY=w=>s=>{s.width=w;s.paddingTop=0;s.paddingBottom=0;};
const plain={responsive:false,animation:false,events:[],devicePixelRatio:1,plugins:{legend:{display:false},tooltip:{enabled:false},title:{display:false}}};
const discMarker=()=>marker(9.5,9,'#b2b2b2',EDGE,3.5);

new Chart(document.getElementById('top'),{type:'scatter',
 data:{datasets:[{data:seismicYears.map((x,i)=>({x,y:seismicValues[i],lo:seismicLower[i],hi:seismicUpper[i]})),pointStyle:marker(10,9.5,'#b2b2b2','#555',3),barColor:'#666',capHalf:8,clip:false}]},
 plugins:[errorBars,topNotes],
 options:{...plain,layout:{padding:{left:40,top:56,right:29,bottom:2678-1184-173}},
  scales:{
   x:{type:'linear',position:'bottom',min:1986.42,max:2021.48,afterBuildTicks:setTicks(topXTicks),afterFit:fitX(173),grid:baseGrid,border,
      ticks:{font:{family:FONT,size:61},color:INK,autoSkip:false,maxRotation:0,padding:46,callback:v=>topXLabels[topXTicks.indexOf(v)]},
      title:{display:true,text:'Time (year)',font:{family:FONT,size:60.5},color:INK,padding:0}},
   y:{type:'linear',position:'left',min:-0.286,max:0.3138,afterBuildTicks:setTicks(topYTicks),afterFit:fitY(220),grid:baseGrid,border,
      ticks:{font:{family:FONT,size:61},color:INK,autoSkip:false,padding:37,labelOffset:3,callback:v=>String(Math.round(v*10)/10)},
      title:{display:true,text:'Correlation (seismic activity vs ΔCFS)',font:{family:FONT,size:60.5},color:INK,padding:26}},
   x2:{type:'linear',position:'top',min:1986.42,max:2021.48,afterBuildTicks:setTicks(topXTicks),afterFit:fitX(0),grid:baseGrid,border,ticks:{display:false}},
   y2:{type:'linear',position:'right',min:-0.286,max:0.3138,afterBuildTicks:setTicks(topYTicks),afterFit:fitY(0),grid:baseGrid,border,ticks:{display:false}}
  }}});

new Chart(document.getElementById('bottom'),{type:'scatter',
 data:{datasets:[
  {data:flat([...eqFill1990,...eqRows1990,...eqFill1995,...eqRows1995,...eqFill2000,...eqRows2000,...eqRows2005,...eqRows2014]),pointStyle:discMarker(),barColor:'#5c5c5c',capHalf:8,clip:false},
  {data:flat([...eqFill2003,...eqFill2005]),pointStyle:marker(10,9.5,EDGE,EDGE,3,[7.5,4.2,'#a8a8a8']),barColor:'#555',capHalf:8,clip:false},
  {data:flat(eqSolid1990),pointStyle:marker(10,9.5,'#484848','#484848',3),barColor:'#555',capHalf:8,clip:false},
  {data:flat([...eqStacked2003,...eqStacked2018]),pointStyle:marker(10,9.5,EDGE,EDGE,3,[7.5,2.8,'#a6a6a6']),barColor:'#555',capHalf:8,clip:false},
  {data:flat(eqSolid2014),pointStyle:marker(10,9.5,'#484848','#484848',3),barColor:'#555',capHalf:8,clip:false},
  {data:flat(eqStripes),pointStyle:marker(8.5,3,'#ababab','#ababab',0),noBars:true,clip:false}]},
 plugins:[errorBars,lowNotes],
 options:{...plain,layout:{padding:{left:28,top:1387,right:67,bottom:2678-2485-170}},
  scales:{
   x:{type:'linear',position:'bottom',min:1990,max:2021,afterBuildTicks:setTicks(lowXTicks),afterFit:fitX(170),grid:baseGrid,border,
      ticks:{font:{family:FONT,size:59},color:INK,autoSkip:false,maxRotation:0,padding:45,callback:v=>String(v)},
      title:{display:true,text:'Time (year)',font:{family:FONT,size:59.5},color:INK,padding:0}},
   y:{type:'linear',position:'left',min:-1.5,max:2,afterBuildTicks:setTicks(lowYTicks),afterFit:fitY(240),grid:baseGrid,border,
      ticks:{font:{family:FONT,size:59},color:INK,autoSkip:false,padding:38,labelOffset:3,callback:v=>String(v)},
      title:{display:true,text:'ΔCFS (KPa)',font:{family:FONT,size:60},color:INK,padding:50}}
  }}});
</script></body></html>
